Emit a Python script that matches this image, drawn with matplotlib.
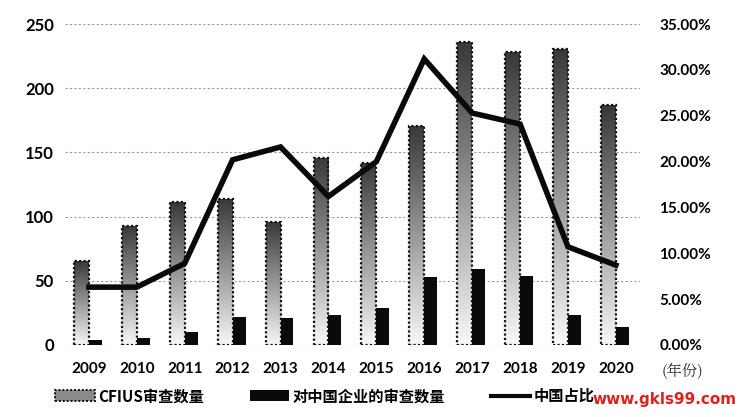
import numpy as np
import matplotlib
matplotlib.use("Agg")
import matplotlib.pyplot as plt
import matplotlib.patches as mpatches
from matplotlib.lines import Line2D
from matplotlib.ticker import FuncFormatter, MultipleLocator

plt.rcParams['font.family'] = ['Lato', 'Noto Sans CJK SC', 'DejaVu Sans']

# data
years = ["2009", "2010", "2011", "2012", "2013", "2014",
         "2015", "2016", "2017", "2018", "2019", "2020"]
cfius = [65, 93, 111, 114, 96, 146, 142, 171, 236, 228, 231, 187]
china = [4, 5, 10, 22, 21, 23, 29, 53, 59, 54, 23, 14]
share = [6.3, 6.3, 8.9, 20.2, 21.6, 16.2, 20.0, 31.2, 25.3, 24.1, 10.7, 8.7]

fig = plt.figure(figsize=(7.38, 4.17), dpi=100)
ax = fig.add_axes([0.088, 0.173, 0.779, 0.769])

x = np.arange(len(years))

# vertical gradient for the CFIUS bars: light at the bottom, dark at the top
grad = np.linspace(0.97, 0.22, 256).reshape(-1, 1)

gray_bars = ax.bar(x - 0.31, cfius, width=0.31, align="edge",
                   facecolor="none", edgecolor="#111111",
                   linestyle=(0, (1, 1)), linewidth=1.6, zorder=3)
for b in gray_bars:
    x0, w, h = b.get_x(), b.get_width(), b.get_height()
    im = ax.imshow(grad, cmap="gray", vmin=0, vmax=1, aspect="auto",
                   extent=[x0, x0 + w, 0, h], origin="lower", zorder=2)
    im.set_clip_path(b)

ax.bar(x, china, width=0.27, align="edge", color="#0a0a0a", zorder=3)

ax.set_xlim(-0.5, 11.5)
ax.set_ylim(0, 250)
ax.yaxis.set_major_locator(MultipleLocator(50))
ax.set_xticks(x)
ax.set_xticklabels(years)
ax.grid(axis="y", color="#999999", linestyle=(0, (2, 2)), linewidth=0.8, zorder=0)
for s in ax.spines.values():
    s.set_visible(False)
ax.tick_params(length=0, labelsize=12, pad=8)
ax.tick_params(axis="x", labelsize=11, pad=12)
for t in ax.get_xticklabels() + ax.get_yticklabels():
    t.set_fontweight("bold")

# share of China on the right axis
ax2 = ax.twinx()
ax2.plot(x, share, color="#0a0a0a", linewidth=4, solid_joinstyle="miter", zorder=5)
ax2.set_ylim(0, 35)
ax2.yaxis.set_major_locator(MultipleLocator(5))
ax2.yaxis.set_major_formatter(FuncFormatter(lambda v, p: "%.2f%%" % v))
for s in ax2.spines.values():
    s.set_visible(False)
ax2.tick_params(length=0, labelsize=11, pad=14)
for t in ax2.get_yticklabels():
    t.set_fontweight("bold")

fig.text(0.925, 0.108, "(年份)", fontsize=11, color="#333333", ha="center", va="center",
         family=["Noto Serif CJK SC", "Noto Sans CJK SC", "DejaVu Sans"])

handles = [
    mpatches.Patch(facecolor="#8a8a8a", edgecolor="#111111", linestyle=(0, (1, 1)), linewidth=1.4),
    mpatches.Patch(facecolor="#0a0a0a"),
    Line2D([0], [0], color="#0a0a0a", linewidth=3),
]
labels = ["CFIUS审查数量", "对中国企业的审查数量", "中国占比"]
fig.legend(handles, labels, loc="center", bbox_to_anchor=(0.44, 0.05), ncol=3,
           frameon=False, handlelength=2.6, handleheight=0.7,
           columnspacing=3.0, handletextpad=0.2,
           prop={"family": ["Noto Sans CJK SC", "DejaVu Sans"], "weight": "bold", "size": 11})

fig.text(0.90, 0.042, "www.gkls99.com", color="#e0201c", fontsize=11,
         fontweight="bold", ha="center", va="center", family="DejaVu Sans")

fig.savefig("out.png", dpi=100)
